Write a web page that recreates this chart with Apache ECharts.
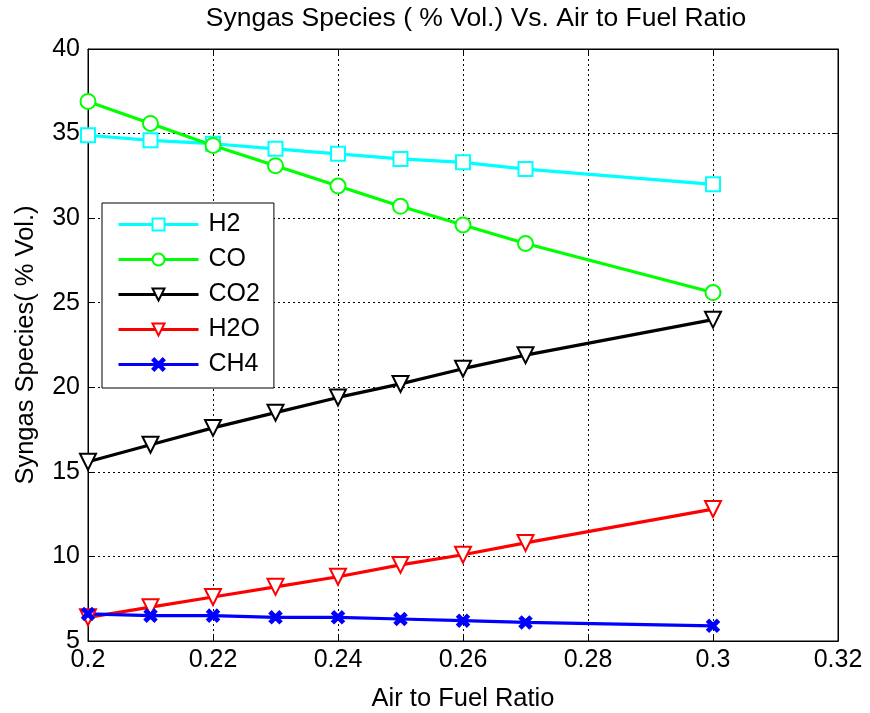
<!DOCTYPE html>
<html>
<head>
<meta charset="utf-8">
<script src="https://cdn.jsdelivr.net/npm/echarts@6/dist/echarts.min.js"></script>
<style>
  html, body { margin: 0; padding: 0; background: #fff; }
  #chart { width: 870px; height: 713px; }
</style>
</head>
<body>
<div id="chart"></div>
<script>
  // data
  var airFuel = [0.20, 0.21, 0.22, 0.23, 0.24, 0.25, 0.26, 0.27, 0.30];
  var h2  = [34.9, 34.6, 34.4, 34.1, 33.8, 33.5, 33.3, 32.9, 32.0];
  var co  = [36.9, 35.6, 34.3, 33.1, 31.9, 30.7, 29.6, 28.5, 25.6];
  var co2 = [15.6, 16.6, 17.6, 18.5, 19.4, 20.2, 21.1, 21.9, 24.0];
  var h2o = [6.4, 7.0, 7.6, 8.2, 8.8, 9.5, 10.1, 10.8, 12.8];
  var ch4 = [6.6, 6.5, 6.5, 6.4, 6.4, 6.3, 6.2, 6.1, 5.9];

  var xTicks = ['0.2', '0.22', '0.24', '0.26', '0.28', '0.3', '0.32'];
  var yTicks = ['5', '10', '15', '20', '25', '30', '35', '40'];

  var FONT = 'Liberation Sans';
  var xMark = 'path://M0,1.5L1.5,0L5,3.5L8.5,0L10,1.5L6.5,5L10,8.5L8.5,10L5,6.5L1.5,10L0,8.5L3.5,5Z';

  var chart = echarts.init(document.getElementById('chart'));

  function pairs(ys) {
    return airFuel.map(function (x, i) { return [x, ys[i]]; });
  }

  function makeSeries(name, ys, color, symbol, size, rotate) {
    return {
      name: name,
      type: 'line',
      data: pairs(ys),
      xAxisIndex: 0,
      yAxisIndex: 0,
      clip: false,
      symbol: symbol,
      symbolSize: size,
      symbolRotate: rotate || 0,
      showAllSymbol: true,
      color: color,
      lineStyle: { color: color, width: 3.2 },
      itemStyle: { color: color, borderColor: color, borderWidth: 2.5 },
      emphasis: { disabled: true }
    };
  }

  var gridLine = { show: true, lineStyle: { color: '#000', type: [2, 3], width: 1 } };
  var axisLine = { show: true, lineStyle: { color: '#000', width: 1 } };
  var tickIn = { show: true, inside: true, length: 6, lineStyle: { color: '#000' } };

  var option = {
    animation: false,
    backgroundColor: '#fff',
    textStyle: { fontFamily: FONT },
    title: {
      text: 'Syngas Species ( % Vol.) Vs. Air to Fuel Ratio',
      left: 476,
      top: 5,
      padding: 0,
      textAlign: 'center',
      textStyle: { fontFamily: FONT, fontSize: 26.5, fontWeight: 'normal', color: '#000' }
    },
    grid: {
      left: 88, right: 32, top: 49, bottom: 72,
      outerBoundsMode: 'none',
      show: true, borderColor: '#000', borderWidth: 1
    },
    legend: {
      orient: 'vertical',
      left: 102,
      top: 203,
      padding: [9, 14, 11, 15],
      itemWidth: 80,
      itemHeight: 15,
      itemGap: 10,
      backgroundColor: '#fff',
      borderColor: '#000',
      borderWidth: 1,
      borderRadius: 0,
      lineStyle: { width: 3 },
      textStyle: { fontFamily: FONT, fontSize: 25, color: '#000', lineHeight: 24, padding: [0, 0, 0, 5] },
      data: ['H2', 'CO', 'CO2', 'H2O', 'CH4']
    },
    xAxis: [{
      type: 'value',
      min: 0.2,
      max: 0.32,
      interval: 0.02,
      name: 'Air to Fuel Ratio',
      nameLocation: 'middle',
      nameGap: 45,
      nameTextStyle: { fontFamily: FONT, fontSize: 25.5, color: '#000' },
      axisLine: axisLine,
      axisTick: tickIn,
      axisLabel: {
        fontFamily: FONT, fontSize: 25, color: '#000', margin: 7,
        formatter: function (v) { return xTicks[Math.round((v - 0.2) / 0.02)]; }
      },
      splitLine: gridLine
    }, {
      type: 'value',
      position: 'top',
      min: 0.2,
      max: 0.32,
      interval: 0.02,
      axisLine: axisLine,
      axisTick: tickIn,
      axisLabel: { show: false },
      splitLine: { show: false }
    }],
    yAxis: [{
      type: 'value',
      min: 5,
      max: 40,
      interval: 5,
      name: 'Syngas Species( % Vol.)',
      nameLocation: 'middle',
      nameGap: 49,
      nameTextStyle: { fontFamily: FONT, fontSize: 25.5, color: '#000' },
      axisLine: axisLine,
      axisTick: tickIn,
      axisLabel: {
        fontFamily: FONT, fontSize: 25, color: '#000', margin: 8,
        formatter: function (v) { return yTicks[Math.round((v - 5) / 5)]; }
      },
      splitLine: gridLine
    }, {
      type: 'value',
      position: 'right',
      min: 5,
      max: 40,
      interval: 5,
      axisLine: axisLine,
      axisTick: tickIn,
      axisLabel: { show: false },
      splitLine: { show: false }
    }],
    series: [
      makeSeries('H2', h2, '#00ffff', 'emptyRect', 14),
      makeSeries('CO', co, '#00ff00', 'emptyCircle', 15),
      makeSeries('CO2', co2, '#000000', 'emptyTriangle', 16, 180),
      makeSeries('H2O', h2o, '#ff0000', 'emptyTriangle', 16, 180),
      makeSeries('CH4', ch4, '#0000ff', xMark, 11)
    ]
  };

  chart.setOption(option);
</script>
</body>
</html>
